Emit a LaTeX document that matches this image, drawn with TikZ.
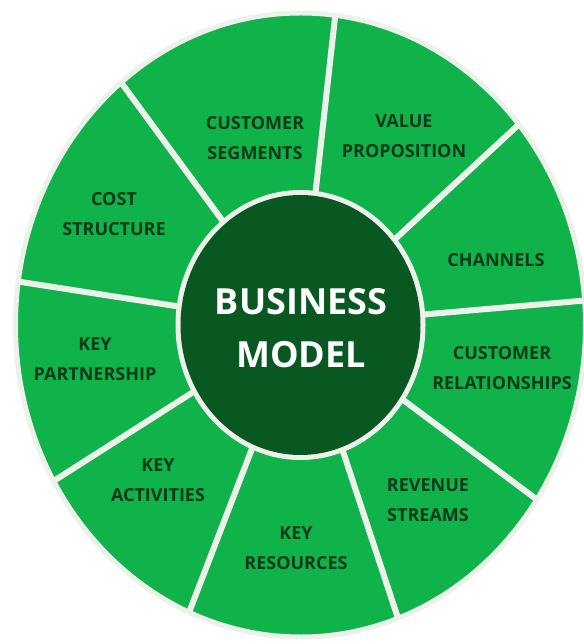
\documentclass[tikz,border=0pt]{standalone}
\usepackage{fontspec}
\setmainfont{Open Sans}
\usepackage{tikz}

\definecolor{wheelgreen}{RGB}{16,178,74}
\definecolor{hubgreen}{RGB}{9,88,33}
\definecolor{labelgreen}{RGB}{12,58,24}
\definecolor{rimgray}{RGB}{236,241,236}

\begin{document}
\begin{tikzpicture}[x=1pt,y=1pt,
    seglabel/.style={font=\bfseries\fontsize{18}{30}\selectfont, text=labelgreen, align=center},
    hublabel/.style={font=\bfseries\fontsize{36}{53}\selectfont, text=white, align=center}]
            \useasboundingbox (-300.5,-319) rectangle (282.5,325);

            % The wheel
            \fill[wheelgreen, draw=rimgray, line width=5pt] (0,0) ellipse [x radius=285pt, y radius=312pt];

            % The spokes
            \foreach \a in {83,40,4.5,-34,-70,-113,-150,172,129}
                \draw[rimgray, line width=6pt] (\a:122pt and 132pt) -- (\a:285pt and 312pt);

            % The hub
            \fill[rimgray] (0,0) ellipse [x radius=125pt, y radius=135pt];
            \fill[hubgreen] (0,0) ellipse [x radius=120pt, y radius=130pt];
            \node[hublabel] (bm) at (0.5,-3.5) {BUSINESS\\MODEL};

            % The segments
            \node[seglabel] (cs) at (-45.5,186.5) {CUSTOMER\\SEGMENTS};
            \node[seglabel] (vp) at (103.5,188.5) {VALUE\\PROPOSITION};
            \node[seglabel] (ch) at (195.5,65) {CHANNELS};
            \node[seglabel] (cr) at (201.5,-43.5) {CUSTOMER\\RELATIONSHIPS};
            \node[seglabel] (rs) at (127.5,-175) {REVENUE\\STREAMS};
            \node[seglabel] (kr) at (-4.5,-223.5) {KEY\\RESOURCES};
            \node[seglabel] (ka) at (-142.5,-155) {KEY\\ACTIVITIES};
            \node[seglabel] (kp) at (-205.5,-34) {KEY\\PARTNERSHIP};
            \node[seglabel] (cst) at (-186.5,110.5) {COST\\STRUCTURE};
        \end{tikzpicture}
\end{document}
